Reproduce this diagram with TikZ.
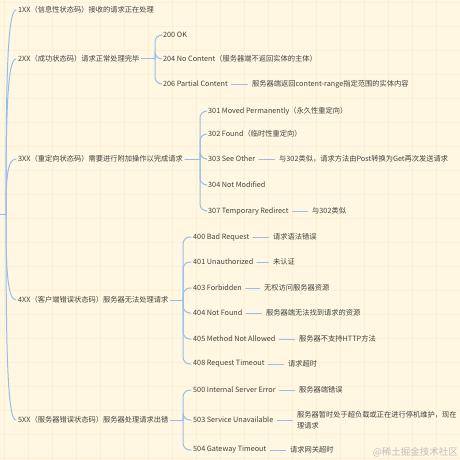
\documentclass[tikz,border=0pt]{standalone}
\usepackage{fontspec}
\newfontfamily\cjk{Noto Sans CJK SC}
\definecolor{bg}{HTML}{FFF7E1}
\definecolor{gridc}{HTML}{FCEFD6}
\definecolor{br}{HTML}{94BFEC}
\definecolor{txt}{HTML}{424242}
\definecolor{wmc}{HTML}{BEBEBE}
\begin{document}
\begin{tikzpicture}[x=1pt,y=-1pt,
  lbl/.style={font=\cjk\fontsize{7.25}{11}\selectfont, text=txt, anchor=west, inner xsep=2pt, inner ysep=1pt},
  desc/.style={lbl, align=left},
  conn/.style={draw=br, line width=1pt, line cap=round},
  brace/.style={conn, rounded corners=7pt},
  dline/.style={conn, shorten >=2.5pt, shorten <=1.5pt},
]
\useasboundingbox (0,0) rectangle (460,460);
\fill[bg] (0,0) rectangle (460,460);
\foreach \i in {0,...,19} {
  \draw[gridc, line width=0.6pt] ({4+24*\i},0) -- ({4+24*\i},460);
  \draw[gridc, line width=0.6pt] (0,{2+24*\i}) -- (460,{2+24*\i});
}
% root
\coordinate (rootin) at (0,214);
\coordinate (root) at (6,214);
\draw[conn] (rootin) -- (root);

% level 1
\node[lbl] (n1) at (16,10) {1XX（信息性状态码）接收的请求正在处理};
\node[lbl] (n2) at (16,59) {2XX（成功状态码）请求正常处理完毕};
\node[lbl] (n3) at (16,159) {3XX（重定向状态码）需要进行附加操作以完成请求};
\node[lbl] (n4) at (16,300) {4XX（客户端错误状态码）服务器无法处理请求};
\node[lbl] (n5) at (16,420) {5XX（服务器错误状态码）服务器处理请求出错};

\draw[conn] (root) .. controls (6,90) and (7,10) .. (n1.west);
\draw[conn] (root) .. controls (6,120) and (7,59) .. (n2.west);
\draw[conn] (root) .. controls (6,180) and (7,159) .. (n3.west);
\draw[conn] (root) .. controls (6,265) and (7,300) .. (n4.west);
\draw[conn] (root) .. controls (6,340) and (7,420) .. (n5.west);

% 2XX
\coordinate (s2) at (155,59);
\draw[conn] (n2.east) -- (s2);
\node[lbl] (c200) at (161,35) {200 OK};
\node[lbl] (c204) at (161,59) {204 No Content（服务器端不返回实体的主体）};
\node[lbl] (c206) at (161,84) {206 Partial Content};
\node[desc] (d206) at (250,84) {服务器端返回content-range指定范围的实体内容};
\foreach \c in {c200,c204,c206} \draw[brace] (s2) |- (\c.west);
\draw[dline] (c206.east) -- (d206.west);

% 3XX
\coordinate (s3) at (200,159);
\draw[conn] (n3.east) -- (s3);
\node[lbl] (c301) at (206,111) {301 Moved Permanently（永久性重定向）};
\node[lbl] (c302) at (206,134) {302 Found（临时性重定向）};
\node[lbl] (c303) at (206,159) {303 See Other};
\node[lbl] (c304) at (206,185) {304 Not Modified};
\node[lbl] (c307) at (206,211) {307 Temporary Redirect};
\node[desc] (d303) at (277,159) {与302类似，请求方法由Post转换为Get再次发送请求};
\node[desc] (d307) at (310,211) {与302类似};
\foreach \c in {c301,c302,c303,c304,c307} \draw[brace] (s3) |- (\c.west);
\draw[dline] (c303.east) -- (d303.west);
\draw[dline] (c307.east) -- (d307.west);

% 4XX
\coordinate (s4) at (183,300);
\draw[conn] (n4.east) -- (s4);
\node[lbl] (c400) at (191,237) {400 Bad Request};
\node[lbl] (c401) at (191,262) {401 Unauthorized};
\node[lbl] (c403) at (191,288) {403 Forbidden};
\node[lbl] (c404) at (191,313) {404 Not Found};
\node[lbl] (c405) at (191,339) {405 Method Not Allowed};
\node[lbl] (c408) at (191,364) {408 Request Timeout};
\node[desc] (d400) at (271,237) {请求语法错误};
\node[desc] (d401) at (271,262) {未认证};
\node[desc] (d403) at (262,288) {无权访问服务器资源};
\node[desc] (d404) at (264,313) {服务器端无法找到请求的资源};
\node[desc] (d405) at (297,339) {服务器不支持HTTP方法};
\node[desc] (d408) at (286,364) {请求超时};
\foreach \c in {c400,c401,c403,c404,c405,c408} \draw[brace] (s4) |- (\c.west);
\foreach \c/\d in {c400/d400,c401/d401,c403/d403,c404/d404,c405/d405,c408/d408}
  \draw[dline] (\c.east) -- (\d.west);

% 5XX
\coordinate (s5) at (183,420);
\draw[conn] (n5.east) -- (s5);
\node[lbl] (c500) at (191,390) {500 Internal Server Error};
\node[lbl] (c503) at (191,420) {503 Service Unavailable};
\node[lbl] (c504) at (191,450) {504 Gateway Timeout};
\node[desc] (d500) at (297,390) {服务器端错误};
\node[desc] (d503) at (295,420) {服务器暂时处于超负载或正在进行停机维护，现在\\理请求};
\node[desc] (d504) at (288,450) {请求网关超时};
\foreach \c in {c500,c503,c504} \draw[brace] (s5) |- (\c.west);
\foreach \c/\d in {c500/d500,c503/d503,c504/d504}
  \draw[dline] (\c.east) -- (\d.west);

% watermark
\node[font=\cjk\fontsize{9.5}{10}\selectfont, text=wmc, anchor=east, inner sep=0pt] (wm) at (458,452) {@稀土掘金技术社区};
\end{tikzpicture}
\end{document}
